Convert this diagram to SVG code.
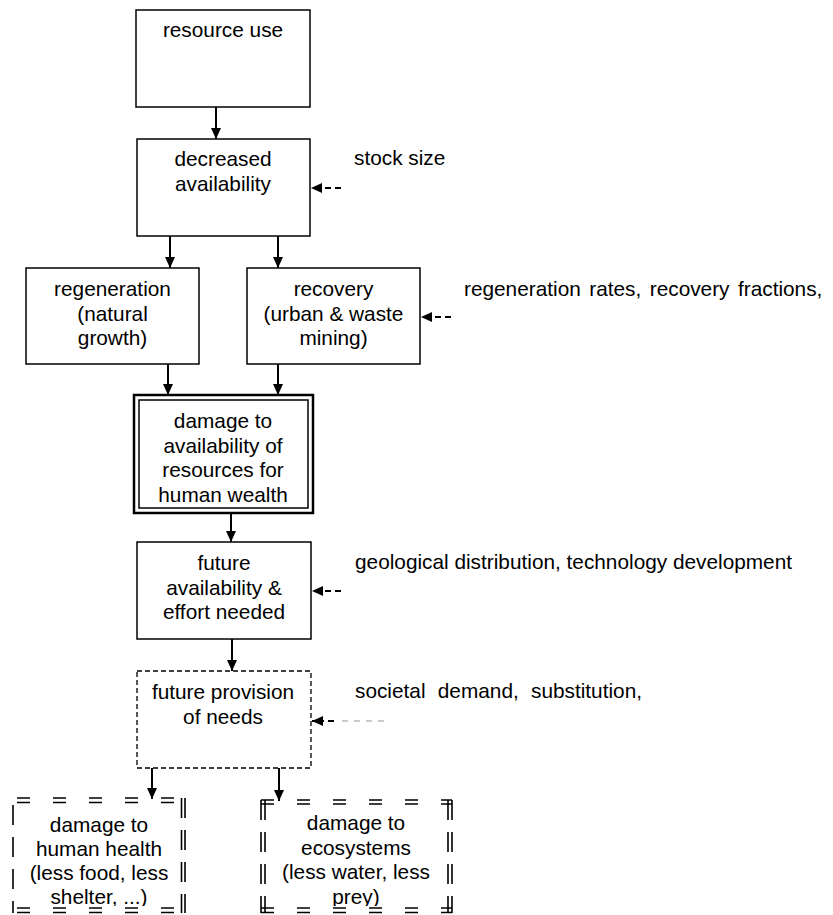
<svg xmlns="http://www.w3.org/2000/svg" width="833" height="915" viewBox="0 0 833 915">
<style>
.box{fill:#fff;stroke:#000;stroke-width:1.5}
.t{font-family:"Liberation Sans",Arial,sans-serif;font-size:20.8px;fill:#000;text-anchor:middle}
.l{font-family:"Liberation Sans",Arial,sans-serif;font-size:20.8px;fill:#000}
.c{stroke:#000;stroke-width:2;fill:none}
.d{stroke:#000;stroke-width:2;fill:none;stroke-dasharray:6,4}
.h{fill:none;stroke:#000;stroke-width:1.6;stroke-dasharray:13,23}
.v{fill:none;stroke:#000;stroke-width:1.6;stroke-dasharray:20,12}
</style>
<defs>
<marker id="ah" markerUnits="userSpaceOnUse" markerWidth="11" markerHeight="10" refX="11" refY="5" orient="auto">
<path d="M0,0 L11,5 L0,10 z" fill="#000"/>
</marker>
<clipPath id="cb"><rect x="0" y="780" width="833" height="126"/></clipPath>
</defs>
<rect width="833" height="915" fill="#fff"/>

<g id="resource-use">
<rect class="box" x="136" y="10" width="174" height="97"/>
<text class="t" x="223" y="37">resource use</text>
</g>
<g id="decreased-availability">
<rect class="box" x="137" y="139" width="173" height="97"/>
<text class="t" x="223" y="166">decreased</text>
<text class="t" x="223" y="191">availability</text>
</g>
<g id="regeneration">
<rect class="box" x="26" y="268" width="173" height="96"/>
<text class="t" x="112.5" y="296">regeneration</text>
<text class="t" x="112.5" y="320.5">(natural</text>
<text class="t" x="112.5" y="345">growth)</text>
</g>
<g id="recovery">
<rect class="box" x="247" y="268" width="173" height="96"/>
<text class="t" x="333.5" y="296">recovery</text>
<text class="t" x="333.5" y="320.5">(urban &amp; waste</text>
<text class="t" x="333.5" y="345">mining)</text>
</g>
<g id="damage-resources">
<rect x="134" y="395" width="179" height="118" fill="#fff" stroke="#000" stroke-width="2.5"/>
<rect x="139" y="400" width="169" height="108" fill="none" stroke="#000" stroke-width="1.5"/>
<text class="t" x="223" y="428">damage to</text>
<text class="t" x="223" y="452.5">availability of</text>
<text class="t" x="223" y="477">resources for</text>
<text class="t" x="223" y="501.5">human wealth</text>
</g>
<g id="future-availability">
<rect class="box" x="137" y="542" width="174" height="97"/>
<text class="t" x="224" y="570">future</text>
<text class="t" x="224" y="594.5">availability &amp;</text>
<text class="t" x="224" y="619">effort needed</text>
</g>
<g id="future-provision">
<rect x="137" y="671" width="174" height="97" fill="#fff" stroke="#000" stroke-width="1.3" stroke-dasharray="5,3"/>
<text class="t" x="223" y="699">future provision</text>
<text class="t" x="223" y="723.5">of needs</text>
</g>
<g id="damage-human-health">
<path class="h" d="M17,798 H185 M17,802.5 H185 M17,908 H185 M17,912.5 H185"/>
<path class="v" d="M181.5,798 V913 M185,798 V913 M13,805 V913"/>
<g clip-path="url(#cb)">
<text class="t" x="99" y="832">damage to</text>
<text class="t" x="99" y="856">human health</text>
<text class="t" x="99" y="880">(less food, less</text>
<text class="t" x="99" y="904">shelter, ...)</text>
</g>
</g>
<g id="damage-ecosystems">
<path class="h" d="M261,800 H452 M261,804 H452 M261,908 H452 M261,912.5 H452"/>
<path class="v" d="M261,800 V913 M265,800 V913 M448,800 V913 M452,800 V913"/>
<g clip-path="url(#cb)">
<text class="t" x="356" y="830">damage to</text>
<text class="t" x="356" y="855">ecosystems</text>
<text class="t" x="356" y="879">(less water, less</text>
<text class="t" x="356" y="904">prey)</text>
</g>
</g>

<g id="labels">
<text class="l" x="354" y="165">stock size</text>
<text class="l" x="464" y="296" word-spacing="2.7">regeneration rates, recovery fractions,</text>
<text class="l" x="355" y="569">geological distribution, technology development</text>
<text class="l" x="355" y="698" word-spacing="6.5">societal demand, substitution,</text>
</g>

<g id="connectors">
<line class="c" x1="216" y1="107" x2="216" y2="139" marker-end="url(#ah)"/>
<line class="c" x1="170" y1="236" x2="170" y2="268" marker-end="url(#ah)"/>
<line class="c" x1="278" y1="236" x2="278" y2="268" marker-end="url(#ah)"/>
<line class="c" x1="168" y1="364" x2="168" y2="395" marker-end="url(#ah)"/>
<line class="c" x1="278" y1="364" x2="278" y2="395" marker-end="url(#ah)"/>
<line class="c" x1="231" y1="513" x2="231" y2="542" marker-end="url(#ah)"/>
<line class="c" x1="232" y1="639" x2="232" y2="671" marker-end="url(#ah)"/>
<line class="c" x1="152" y1="768" x2="152" y2="799" marker-end="url(#ah)"/>
<line class="c" x1="279" y1="768" x2="279" y2="801" marker-end="url(#ah)"/>
<line class="d" x1="341" y1="188" x2="311" y2="188" marker-end="url(#ah)"/>
<line class="d" x1="451" y1="317" x2="421" y2="317" marker-end="url(#ah)"/>
<line class="d" x1="341" y1="591" x2="312" y2="591" marker-end="url(#ah)"/>
<line class="d" x1="334" y1="721" x2="312" y2="721" marker-end="url(#ah)"/>
<line x1="342" y1="721" x2="390" y2="721" stroke="#bbb" stroke-width="1.5" stroke-dasharray="6,6"/>
</g>
</svg>
